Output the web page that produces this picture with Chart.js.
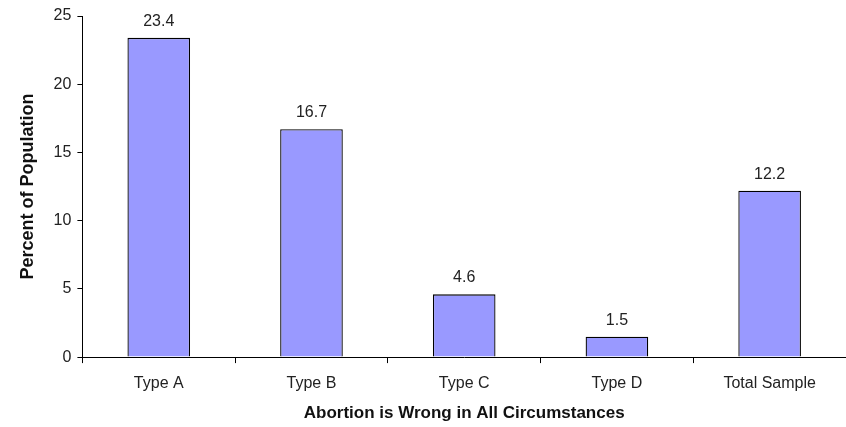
<!DOCTYPE html>
<html>
<head>
<meta charset="utf-8">
<script src="https://cdn.jsdelivr.net/npm/chart.js@4/dist/chart.umd.min.js"></script>
<style>
  html, body { margin: 0; padding: 0; background: #fff; }
  #wrap { width: 846px; height: 427px; }
</style>
</head>
<body>
<div id="wrap"><canvas id="myBarChart"></canvas></div>
<script>
const categories = ['Type A', 'Type B', 'Type C', 'Type D', 'Total Sample'];
const percentValues = [23.4, 16.7, 4.6, 1.5, 12.2];
const yTicks = [0, 5, 10, 15, 20, 25];

const fontName = '"Liberation Sans", Arial, sans-serif';

// writes the value above each bar
const valueLabels = {
    id: 'valueLabels',
    afterDatasetsDraw(chart) {
        const ctx = chart.ctx;
        const meta = chart.getDatasetMeta(0);
        ctx.save();
        ctx.font = '16px ' + fontName;
        ctx.fillStyle = '#222';
        ctx.textAlign = 'center';
        ctx.textBaseline = 'alphabetic';
        meta.data.forEach((bar, i) => {
            ctx.fillText(percentValues[i].toFixed(1), bar.x, bar.y - 12);
        });
        ctx.restore();
    }
};

const ctx = document.getElementById('myBarChart').getContext('2d');
new Chart(ctx, {
    type: 'bar',
    data: {
        labels: categories,
        datasets: [{
            data: percentValues,
            backgroundColor: '#9999ff',
            borderColor: '#000',
            borderWidth: 1.3,
            categoryPercentage: 0.41,
            barPercentage: 1
        }]
    },
    options: {
        responsive: true,
        maintainAspectRatio: false,
        animation: false,
        layout: {
            padding: { top: 16, right: 0, bottom: 4, left: 17 }
        },
        plugins: {
            legend: { display: false },
            tooltip: { enabled: false }
        },
        scales: {
            x: {
                grid: {
                    display: true,
                    offset: true,
                    drawOnChartArea: false,
                    drawTicks: true,
                    tickLength: 6,
                    color: '#000'
                },
                border: { display: true, color: '#000', width: 1 },
                ticks: {
                    color: '#222',
                    font: { family: fontName, size: 16 },
                    padding: 11
                },
                title: {
                    display: true,
                    text: 'Abortion is Wrong in All Circumstances',
                    color: '#111',
                    font: { family: fontName, size: 17, weight: 'bold', lineHeight: 1.1 },
                    padding: { top: 0, bottom: 0 }
                }
            },
            y: {
                min: 0,
                max: 25,
                afterBuildTicks(axis) {
                    axis.ticks = yTicks.map(v => ({ value: v }));
                },
                grid: {
                    display: true,
                    drawOnChartArea: false,
                    drawTicks: true,
                    tickLength: 5,
                    color: '#000'
                },
                border: { display: true, color: '#000', width: 1 },
                ticks: {
                    color: '#222',
                    font: { family: fontName, size: 16 },
                    padding: 6
                },
                title: {
                    display: true,
                    text: 'Percent of Population',
                    color: '#111',
                    font: { family: fontName, size: 18, weight: 'bold' },
                    padding: { top: 0, bottom: 9 }
                }
            }
        }
    },
    plugins: [valueLabels]
});
</script>
</body>
</html>
